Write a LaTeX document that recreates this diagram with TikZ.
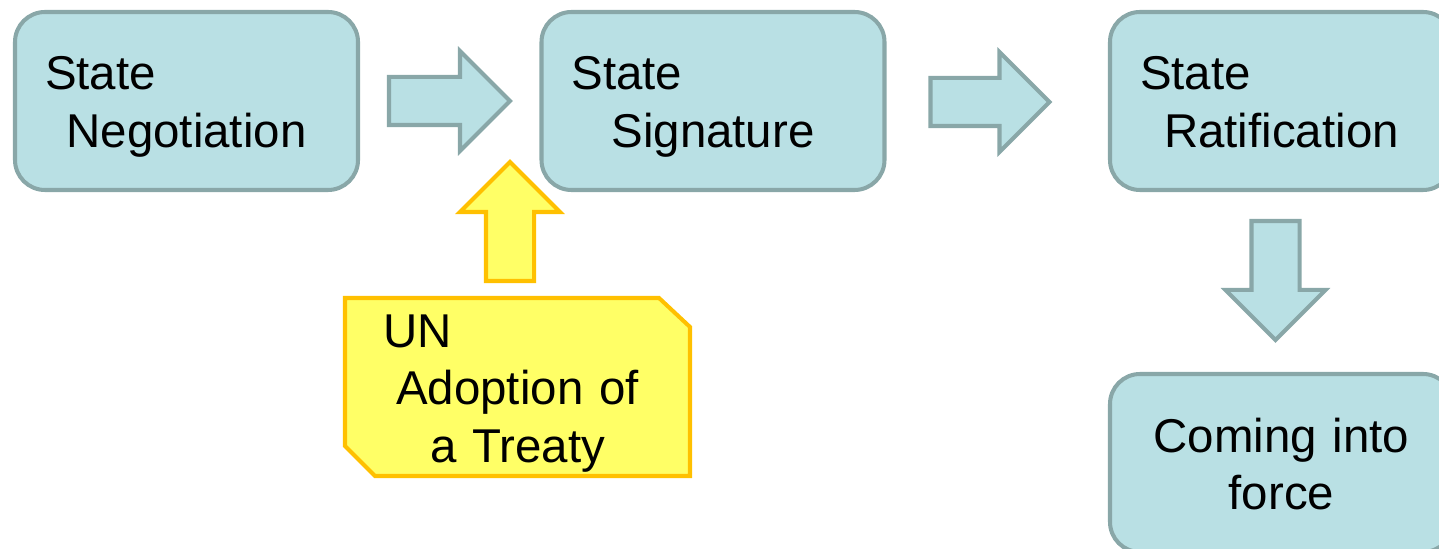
\documentclass[tikz,border=0pt]{standalone}
\usepackage{fontspec}
\setmainfont{Liberation Sans}
\usetikzlibrary{shapes.arrows,backgrounds}
\definecolor{stagefill}{RGB}{185,224,228}
\definecolor{stageline}{RGB}{137,167,168}
\definecolor{unfill}{RGB}{255,255,102}
\definecolor{unline}{RGB}{255,192,0}
% struts that set the first baseline and the last depth
\newcommand\firststrut{\rule{0pt}{0.92cm}}
\newcommand\laststrut{\rule[-0.2cm]{0pt}{0.2cm}}
\tikzset{
  stage/.style={draw=stageline, fill=stagefill, line width=2.3pt, rounded corners=0.6cm,
    minimum width=6.86cm, minimum height=3.56cm, text width=5.66cm, align=center,
    inner sep=0pt, outer sep=0pt, font=\fontsize{27}{33}\selectfont},
  unbox/.style={minimum width=6.9cm, minimum height=3.56cm, text width=5.38cm, align=center,
    inner sep=0pt, outer sep=0pt, font=\fontsize{27}{32.7}\selectfont},
  unedge/.style={draw=unline, fill=unfill, line width=2.3pt},
  flow/.style={single arrow, draw=stageline, fill=stagefill, line width=2.3pt,
    inner sep=0.44cm, single arrow head extend=0.52cm, minimum height=2.4cm,
    outer sep=0pt, anchor=tail},
  unflow/.style={flow, draw=unline, fill=unfill},
}
\begin{document}
\begin{tikzpicture}
  \useasboundingbox (0,0) rectangle (28.78,-10.98);
  % stages
  \node[stage] (neg) at (3.73,-2.02) {\firststrut State\hfill\null\\Negotiation\laststrut};
  \node[stage] (sig) at (14.26,-2.02) {\firststrut State\hfill\null\\Signature\laststrut};
  \node[stage] (rat) at (25.63,-2.02) {\firststrut State\hfill\null\\Ratification\laststrut};
  \node[stage] (force) at (25.63,-9.26) {\firststrut Coming into\\force\laststrut};
  \node[unbox] (un) at (10.35,-7.74) {\firststrut UN\hfill\null\\Adoption of\\a Treaty\laststrut};
  \begin{scope}[on background layer]
    \draw[unedge] (un.north west) -- ([xshift=-0.62cm]un.north east)
      -- ([yshift=-0.58cm]un.north east) -- (un.south east)
      -- ([xshift=0.6cm]un.south west) -- ([yshift=0.6cm]un.south west) -- cycle;
  \end{scope}
  % block arrows
  \node[flow, minimum height=2.42cm] (n2s) at ([xshift=0.62cm]neg.east) {};
  \node[flow, minimum height=2.38cm] (s2r) at ([xshift=0.92cm,yshift=-0.02cm]sig.east) {};
  \node[flow, minimum height=2.38cm, shape border rotate=270] (r2f)
    at ([xshift=-0.12cm,yshift=-0.62cm]rat.south) {};
  \node[unflow, minimum height=2.38cm, shape border rotate=90] (u2s)
    at ([xshift=-0.15cm,yshift=0.34cm]un.north) {};
\end{tikzpicture}
\end{document}
